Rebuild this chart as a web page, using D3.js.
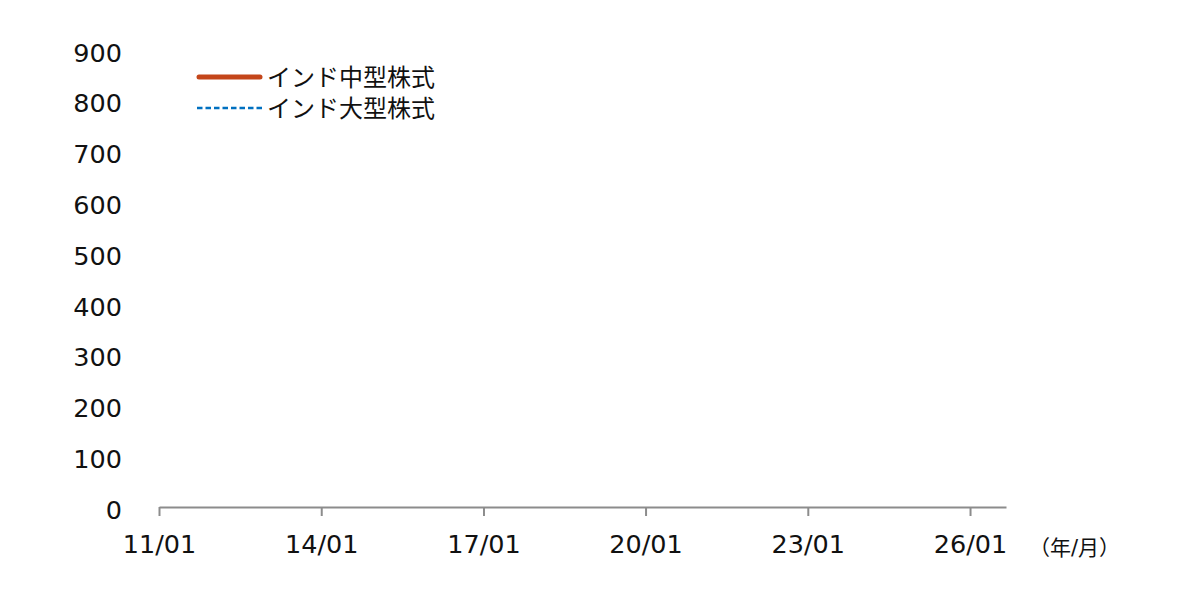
<!DOCTYPE html>
<html>
<head>
<meta charset="utf-8">
<script src="https://cdn.jsdelivr.net/npm/d3@7"></script>
<style>
  body { margin: 0; background: #fff; }
  svg text { font-family: Verdana, "DejaVu Sans", "Noto Sans CJK JP", sans-serif; }
</style>
</head>
<body>
<main></main>
<script>
/*** data ***/

// series names (legend)
let seriesNames = ['インド中型株式', 'インド大型株式']

// monthly values: nothing is plotted in the reference, so the series are empty
let months = []
let midCapValues = []
let largeCapValues = []

// axis ticks
let yTicks = [0, 100, 200, 300, 400, 500, 600, 700, 800, 900]
let xTickYears = [2011, 2014, 2017, 2020, 2023, 2026]
let xStart = '2011-01-01'
let xEnd = '2026-09-01'

const svgWidth = 1179
const svgHeight = 603

const plotLeft = 159
const plotRight = 1006
const plotTop = 50
const plotBottom = 507

let svg = d3.select('main')
    .append('svg')
    .attr('width', svgWidth)
    .attr('height', svgHeight)
    .style('background-color', 'white')

/* scales */
let xScale = d3.scaleTime()
    .domain([new Date(xStart), new Date(xEnd)])
    .range([plotLeft, plotRight])

let yScale = d3.scaleLinear()
    .domain([0, 900])
    .range([plotBottom, plotTop])

/* y axis: labels only */
let yAxis = svg.append('g')
    .attr('transform', `translate(${plotLeft - 37}, 0)`)
    .call(d3.axisLeft(yScale).tickValues(yTicks).tickSize(0).tickPadding(0))

yAxis.select('.domain').remove()
yAxis.selectAll('text')
    .attr('dy', '0.38em')
    .attr('y', 1.5)
    .attr('fill', '#111')
    .style('font-size', '25.5px')

/* x axis */
let xAxis = svg.append('g')
    .attr('transform', `translate(0, ${plotBottom})`)
    .call(d3.axisBottom(xScale)
        .tickValues(xTickYears.map(y => new Date(y, 0, 1)))
        .tickFormat(d3.timeFormat('%y/%m'))
        .tickSize(9)
        .tickSizeOuter(0)
        .tickPadding(19))

xAxis.select('.domain')
    .attr('stroke', '#8c8c8c')
    .attr('stroke-width', 2)
xAxis.selectAll('line')
    .attr('stroke', '#8c8c8c')
    .attr('stroke-width', 2)
xAxis.selectAll('text')
    .attr('fill', '#111')
    .style('font-size', '25.5px')

svg.append('text')
    .attr('x', 1029)
    .attr('y', 555)
    .attr('fill', '#111')
    .style('font-size', '21px')
    .text('（年/月）')

/* lines */
let line = d3.line()
    .x((d, i) => xScale(new Date(months[i])))
    .y(d => yScale(d))

svg.append('path')
    .datum(largeCapValues)
    .attr('fill', 'none')
    .attr('stroke', '#0070c0')
    .attr('stroke-width', 2.5)
    .attr('stroke-dasharray', '5.5 3')
    .attr('d', line)

svg.append('path')
    .datum(midCapValues)
    .attr('fill', 'none')
    .attr('stroke', '#c4461a')
    .attr('stroke-width', 5)
    .attr('d', line)

/* legend */
let legend = svg.append('g')
    .attr('transform', 'translate(199, 77)')

legend.append('line')
    .attr('x1', 0).attr('x2', 61)
    .attr('y1', 0).attr('y2', 0)
    .attr('stroke', '#c4461a')
    .attr('stroke-width', 5)
    .attr('stroke-linecap', 'round')

legend.append('line')
    .attr('x1', -2).attr('x2', 63)
    .attr('y1', 31).attr('y2', 31)
    .attr('stroke', '#0070c0')
    .attr('stroke-width', 2.5)
    .attr('stroke-dasharray', '5.5 3')

legend.selectAll('text.label')
    .data(seriesNames)
    .enter()
    .append('text')
    .attr('class', 'label')
    .attr('x', 68)
    .attr('y', (d, i) => i * 31)
    .attr('dy', '0.36em')
    .attr('fill', '#111')
    .style('font-size', '24px')
    .text(d => d)
</script>
</body>
</html>
